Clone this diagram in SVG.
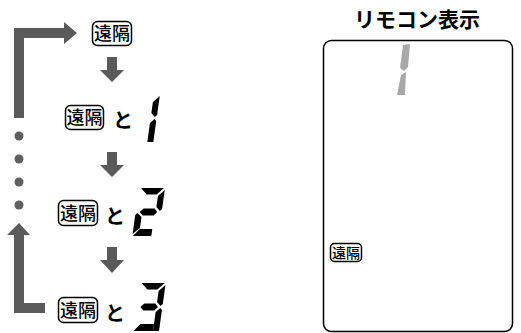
<svg xmlns="http://www.w3.org/2000/svg" width="521" height="333" viewBox="0 0 521 333">
<style>
.arr{fill:#5a5a5a}
.dot{fill:#5f5f5f}
.lbl rect{fill:#fff;stroke:#000;stroke-width:1.5}
.lbl text{font-family:"Noto Sans CJK JP","Noto Sans",sans-serif;font-size:18px;font-weight:500;text-anchor:middle;fill:#000}
.to{font-family:"Noto Sans CJK JP","Noto Sans",sans-serif;font-size:20px;font-weight:bold;fill:#000}
.seg{fill:#000}
.gseg{fill:#a8a8a8}
.title{font-family:"Noto Sans CJK JP","Noto Sans",sans-serif;font-size:21px;font-weight:bold;text-anchor:middle;fill:#000}
</style>
<defs>
<polygon id="sa" points="2,-48 25,-48 18.5,-41.5 8.5,-41.5"/>
<polygon id="sb" points="26,-46 26,-27 24,-25 20,-29 20,-40"/>
<polygon id="sg" points="4,-24 7.5,-27.5 18.5,-27.5 21.5,-24 18.5,-20.5 7.5,-20.5"/>
<polygon id="sc" points="24,-23 26,-21 26,0 20,0 20,-19"/>
<polygon id="sd" points="0.5,0 19,0 19,-7 6.5,-7"/>
<polygon id="se" points="0,-2 0,-21 2,-23 6.5,-19 6.5,-8"/>
</defs>
<g id="connectors">
<polygon class="arr" points="14,118 14,28 64,28 64,22 77,33 64,44 64,38 24,38 24,118"/>
<polygon class="arr" points="7,235 19,223 30,235 24,235 24,303 45,303 45,313 14,313 14,235"/>
<circle class="dot" cx="19" cy="136" r="4.5"/>
<circle class="dot" cx="19" cy="159" r="4.5"/>
<circle class="dot" cx="19" cy="182" r="4.5"/>
<circle class="dot" cx="19" cy="205" r="4.5"/>
<polygon class="arr" points="107,57 117,57 117,70 124,70 112,82 100,70 107,70"/>
<polygon class="arr" points="107,152 117,152 117,165 124,165 112,177 100,165 107,165"/>
<polygon class="arr" points="107,247 117,247 117,260 124,260 112,273 100,260 107,260"/>
</g>
<g id="step1">
<g class="lbl"><rect x="92.5" y="21.5" width="39" height="24" rx="5"/><text x="112" y="40">遠隔</text></g>
</g>
<g id="step2">
<g class="lbl"><rect x="65.5" y="105.5" width="38" height="24" rx="5"/><text x="84.5" y="124">遠隔</text></g>
<text class="to" x="113" y="128">と</text>
<g transform="translate(127.3,142) skewX(-8)">
<use href="#sb" class="seg"/><use href="#sc" class="seg"/>
</g>
</g>
<g id="step3">
<g class="lbl"><rect x="58.5" y="200.5" width="39" height="25" rx="5"/><text x="78" y="219.5">遠隔</text></g>
<text class="to" x="105" y="224">と</text>
<g transform="translate(132.3,236) skewX(-8)">
<use href="#sa" class="seg"/><use href="#sb" class="seg"/><use href="#sg" class="seg"/><use href="#se" class="seg"/><use href="#sd" class="seg"/>
</g>
</g>
<g id="step4">
<g class="lbl"><rect x="58.5" y="297.5" width="39" height="25" rx="5"/><text x="78" y="316.5">遠隔</text></g>
<text class="to" x="105" y="321">と</text>
<g transform="translate(133,331) skewX(-8)">
<use href="#sa" class="seg"/><use href="#sb" class="seg"/><use href="#sg" class="seg"/><use href="#sc" class="seg"/><polygon class="seg" points="0.5,0 20,0 20,-7 6.5,-7"/>
</g>
</g>
<g id="remote">
<text class="title" x="417" y="27">リモコン表示</text>
<rect x="323.5" y="40.5" width="189" height="291" rx="8" fill="#fff" stroke="#000" stroke-width="1.5"/>
<polygon class="gseg" points="403,45 410,44 408,67 404,71 400,68"/>
<polygon class="gseg" points="401,75 406,72 405,95 397,95"/>
<g class="lbl"><rect x="330.5" y="243.5" width="31" height="18" rx="4"/><text x="346" y="258" style="font-size:14px">遠隔</text></g>
</g>
</svg>
